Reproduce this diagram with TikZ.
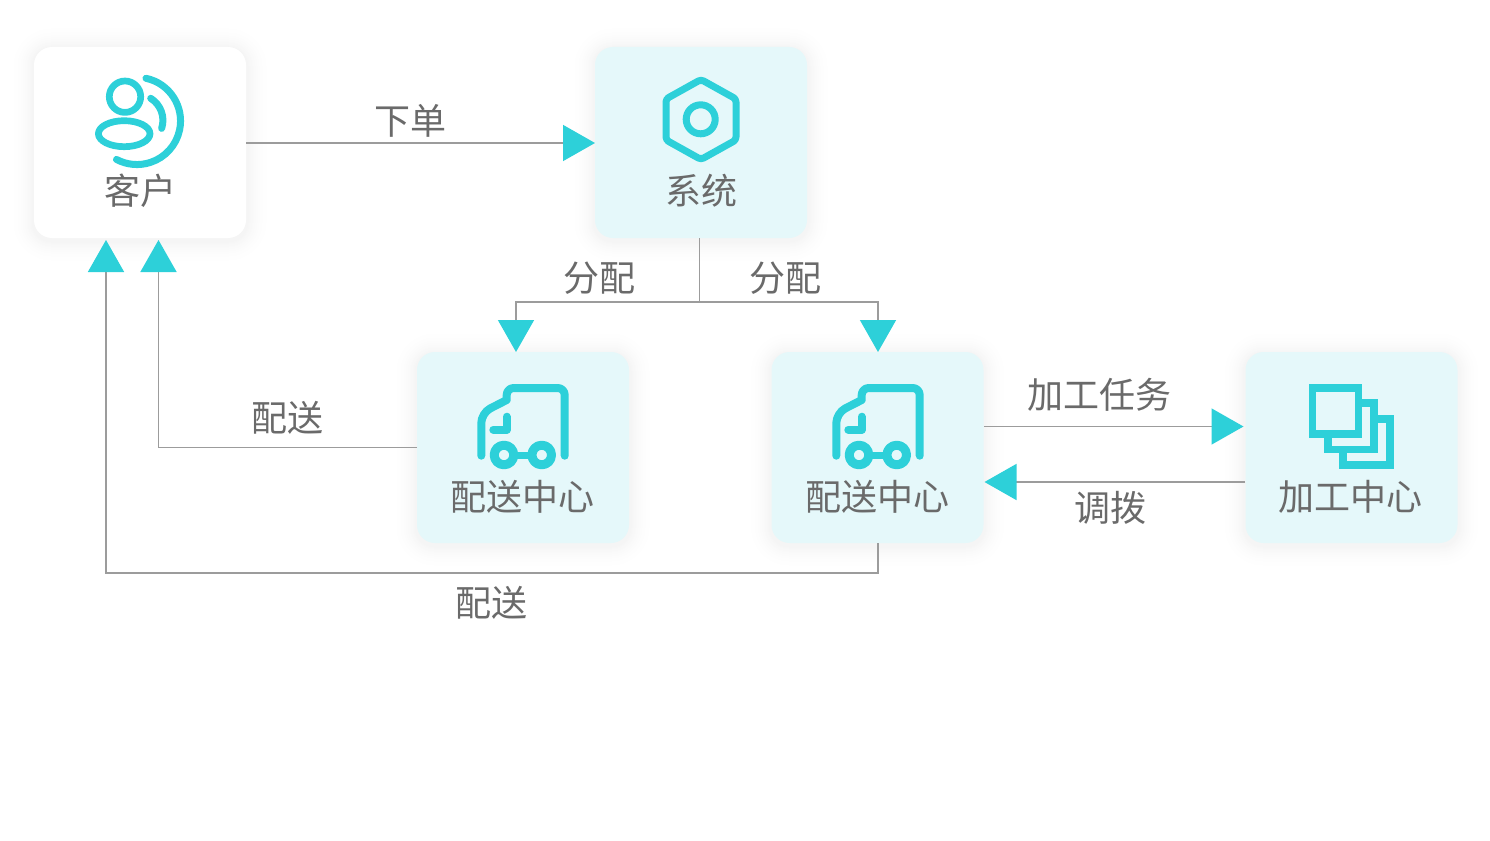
\documentclass[tikz,border=0pt]{standalone}
\usepackage{fontspec}
\setmainfont{Noto Sans CJK SC}
\usetikzlibrary{arrows.meta,calc}
\definecolor{teal}{HTML}{2DD0D9}
\definecolor{cardbg}{HTML}{E5F8FA}
\definecolor{labelgray}{HTML}{6A6A6A}
\definecolor{linegray}{HTML}{9C9C9C}
\tikzset{
  card/.style={rectangle,rounded corners=18pt,minimum width=212pt,minimum height=191pt,inner sep=0pt,outer sep=0pt},
  bluecard/.style={card,fill=cardbg},
  whitecard/.style={card,fill=white},
  lbl/.style={text=labelgray,font=\fontsize{36}{36}\selectfont,inner sep=0pt},
  conn/.style={draw=linegray,line width=1.5pt,-{Triangle[length=32pt,width=36pt,color=teal]}},
  plain/.style={draw=linegray,line width=1.5pt},
  icon/.style={draw=teal,line width=7pt,line cap=round,line join=round},
  truck/.pic={
    \draw[icon,line width=8pt] (-41.7,8.7) [rounded corners=10pt] -- (-41.7,-34) [sharp corners] -- (-16.3,-47) [rounded corners=7pt] -- (-16.3,-59) -- (41.7,-59) -- (41.7,8.7);
    \draw[icon,line width=8pt] (-16.3,-30.3) -- (-16.3,-17.3) -- (-29.7,-17.3);
    \draw[icon,line width=9pt] (-19,8) circle[radius=9.8pt];
    \draw[icon,line width=9pt] (18.7,8) circle[radius=9.8pt];
    \draw[icon,line width=7pt,line cap=butt] (-8,8) -- (8,8);
  }
}
\newcommand{\softshadow}[1]{%
  \foreach \r in {24,23,...,1}{
    \pgfmathsetmacro{\pct}{4.5*(1-\r/25)*(1-\r/25)}
    \fill[black!\pct!white,rounded corners=18pt+\r pt] ($(#1.south west)+(-\r,\r+2)$) rectangle ($(#1.north east)+(\r,-\r+2)$);
  }%
}
\begin{document}
\begin{tikzpicture}[x=1pt,y=-1pt]
\useasboundingbox (0,0) rectangle (1490,840);
\fill[white] (0,0) rectangle (1490,840);

% cards
\node[card] (cust0) at (140,142.5) {};
\node[card] (sys0) at (701,142.5) {};
\node[card] (dc10) at (523,447.5) {};
\node[card] (dc20) at (877.5,447.5) {};
\node[card] (pc0) at (1351.5,447.5) {};
\softshadow{cust0}\softshadow{sys0}\softshadow{dc10}\softshadow{dc20}\softshadow{pc0}

\node[whitecard] (cust) at (140,142.5) {};
\node[bluecard] (sys) at (701,142.5) {};
\node[bluecard] (dc1) at (523,447.5) {};
\node[bluecard] (dc2) at (877.5,447.5) {};
\node[bluecard] (pc) at (1351.5,447.5) {};

% customer icon
\draw[icon,line width=6.7pt] (125,96.7) circle[radius=15.7pt];
\draw[icon,line width=6.7pt] (124.2,133.7) ellipse[x radius=25.8pt,y radius=13pt];
\draw[icon,line width=7pt] (146,78.3) arc[start angle=78,end angle=-118,radius=43.6pt];
\draw[icon,line width=7pt] (150.7,98.3) arc[start angle=58,end angle=-18,radius=26pt];

% system icon
\draw[icon,rounded corners=3pt] (701,79.5) -- (736,99) -- (736,140) -- (701,159.5) -- (666,140) -- (666,99) -- cycle;
\draw[icon] (700.7,119.3) circle[radius=14.5pt];

% trucks
\pic at (523,447) {truck};
\pic at (878,447) {truck};

% stacked squares icon
\draw[icon,line width=7.7pt,line cap=butt,line join=miter] (1312.5,388) rectangle (1358.5,434);
\draw[icon,line width=7.7pt,line cap=butt,line join=miter] (1362,403) -- (1374,403) -- (1374,449.5) -- (1328,449.5) -- (1328,437);
\draw[icon,line width=7.7pt,line cap=butt,line join=miter] (1378,419) -- (1390,419) -- (1390,465) -- (1343,465) -- (1343,453);

% card labels
\node[lbl] (custL) at (140,190.5) {客户};
\node[lbl] (sysL) at (701.5,190.5) {系统};
\node[lbl] (dc1L) at (522.5,497) {配送中心};
\node[lbl] (dc2L) at (877.5,497) {配送中心};
\node[lbl] (pcL) at (1350,497) {加工中心};

% connector end points
\coordinate (custout) at (246,143);
\coordinate (sysin) at (595,143);
\coordinate (custinA) at (106,240);
\coordinate (custinB) at (158.5,240);
\coordinate (sysout) at (699.5,238);
\coordinate (junction) at (699.5,302);
\coordinate (dcAin) at (516,352);
\coordinate (dcBin) at (878,352);
\coordinate (taskfrom) at (984,426.5);
\coordinate (taskto) at (1243.5,426.5);
\coordinate (backfrom) at (1245,482);
\coordinate (backto) at (984.5,482);
\coordinate (dcBout) at (878,543);

% connectors
\draw[conn] (custout) -- (sysin);
\draw[plain] (sysout) -- (junction);
\draw[conn] (junction) -| (dcAin);
\draw[conn] (junction) -| (dcBin);
\draw[conn] (dc1.west) -| (custinB);
\draw[conn] (dcBout) -- ++(0,30) -| (custinA);
\draw[conn] (taskfrom) -- (taskto);
\draw[conn] (backfrom) -- (backto);

% connector labels
\node[lbl] (l1) at (410,121) {下单};
\node[lbl] (l2) at (599.5,278) {分配};
\node[lbl] (l3) at (785.5,278) {分配};
\node[lbl] (l4) at (287.5,418) {配送};
\node[lbl] (l5) at (491.5,603) {配送};
\node[lbl] (l6) at (1099.5,395) {加工任务};
\node[lbl] (l7) at (1110.5,508) {调拨};
\end{tikzpicture}
\end{document}
